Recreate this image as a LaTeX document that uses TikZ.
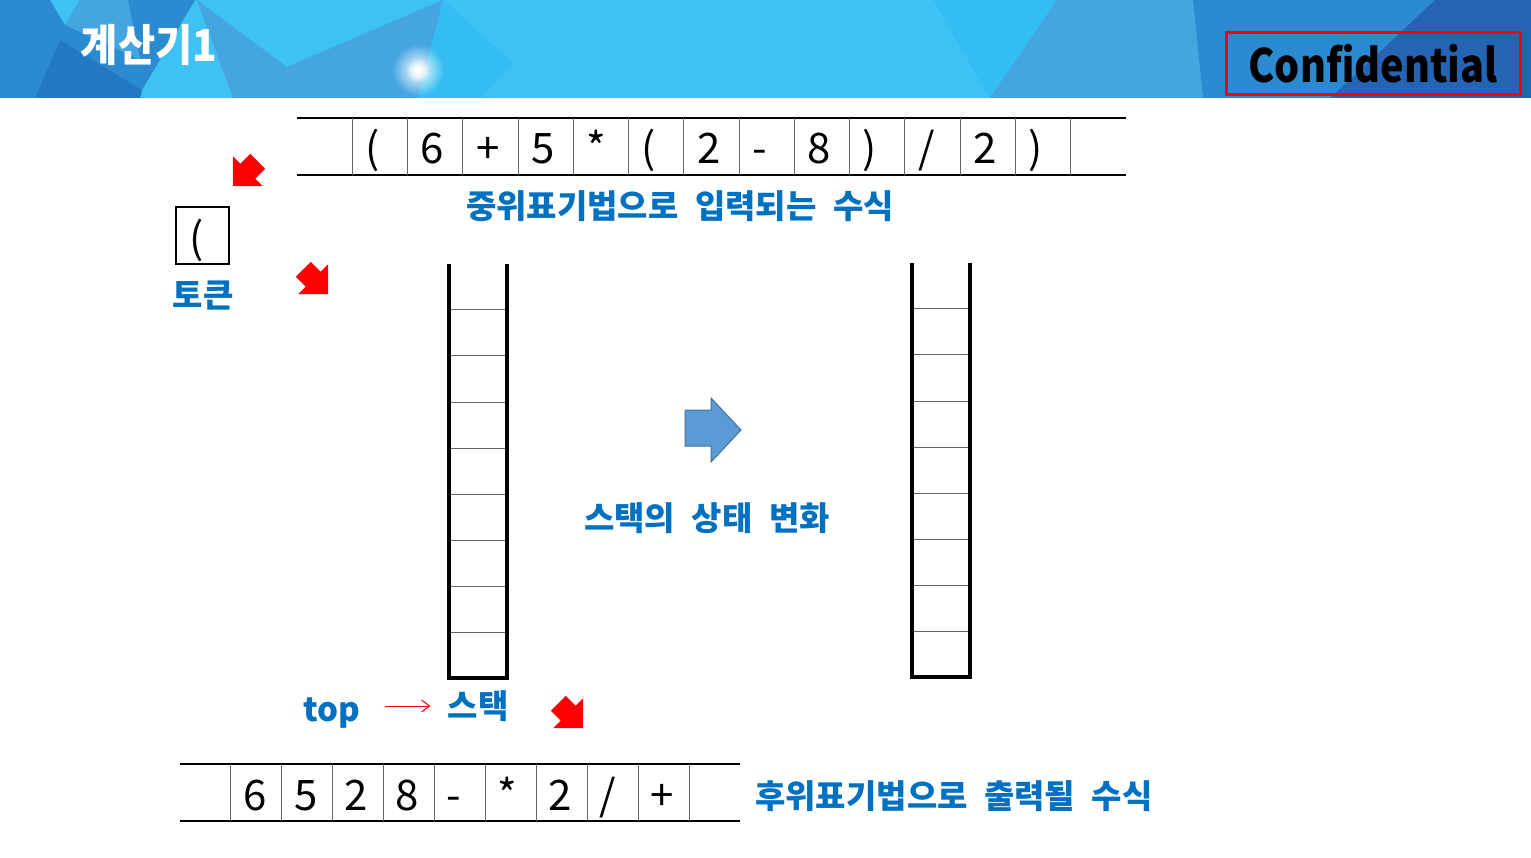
\documentclass[tikz,border=0pt]{standalone}
\usepackage{xcolor}
\usepackage{graphicx}
\usepackage{fontspec}
\setmainfont{Noto Sans CJK KR}
\usetikzlibrary{arrows.meta, fadings}

\definecolor{lblue}{HTML}{0070C0}
\definecolor{hcyan}{HTML}{3EC1F3}
\definecolor{hcyanb}{HTML}{33BDF2}
\definecolor{hmid}{HTML}{45A5E1}
\definecolor{hdark}{HTML}{2B8AD0}
\definecolor{hdeep}{HTML}{2378C4}
\definecolor{hnavy}{HTML}{2564B2}
\definecolor{barrow}{HTML}{5B9BD5}
\definecolor{barrowline}{HTML}{41719C}

\tikzfading[name=glowfade, inner color=transparent!0, outer color=transparent!100]

\newcommand{\widesp}{\spaceskip=0.5em plus 0.1em\relax}

\tikzset{
  cellchar/.style={anchor=base west, font=\fontsize{42}{46}\selectfont},
  bluelabel/.style={text=lblue, font=\bfseries\fontsize{33}{38}\selectfont,
    execute at begin node=\widesp},
  barline/.style={line width=1.5pt},
  cellline/.style={gray!80!black, line width=1pt},
  stackwall/.style={line width=3.5pt},
  redarrow/.pic={
    \fill[red] (-18,-10.5) -- (-4,-10.5) -- (-4,-21) -- (17,0) -- (-4,21) -- (-4,10.5) -- (-18,10.5) -- cycle;
  }
}

\begin{document}
\begin{tikzpicture}[x=1pt, y=-1pt, every node/.style={inner sep=0pt}]
  \useasboundingbox (0,0) rectangle (1531,858);

  % header band
  \fill[hcyan] (0,0) rectangle (1531,98);
  \fill[hdark] (0,0) -- (195,0) -- (142,90) -- (130,98) -- (0,98) -- cycle;
  \fill[hcyan] (50,0) -- (80,0) -- (65,25) -- cycle;
  \fill[hmid] (80,0) -- (128,0) -- (140,60) -- (65,25) -- cycle;
  \fill[hdeep] (35,98) -- (60,40) -- (142,90) -- (140,98) -- cycle;
  \fill[hmid] (197,0) -- (287,67) -- (282,98) -- (233,98) -- cycle;
  \fill[hmid] (287,67) -- (443,0) -- (418,98) -- (282,98) -- cycle;
  \fill[hcyanb] (443,0) -- (513,63) -- (480,98) -- (418,98) -- cycle;
  \fill[hcyanb] (933,0) -- (1057,0) -- (990,98) -- cycle;
  \fill[hmid] (1057,0) -- (1193,0) -- (1203,98) -- (990,98) -- cycle;
  \fill[hdark] (1193,0) -- (1240,0) -- (1217,98) -- (1203,98) -- cycle;
  \fill[hnavy] (1240,0) -- (1531,0) -- (1531,98) -- (1217,98) -- cycle;
  \fill[hdark] (1240,0) -- (1435,0) -- (1330,98) -- (1217,98) -- cycle;
  \fill[white, path fading=glowfade] (418,70) circle (26);
  \fill[white, path fading=glowfade] (418,70) circle (12);

  \node[text=white, font=\bfseries\fontsize{44}{48}\selectfont] (title) at (149,45)
    {\scalebox{0.92}[1]{계산기1}};
  \draw[red, line width=3pt] (1226,33) rectangle (1520,95);
  \node[font=\bfseries\fontsize{46}{50}\selectfont] (conf) at (1373,64)
    {\scalebox{0.86}[1]{Confidential}};

  % infix input
  \draw[barline] (297,118) -- (1126,118);
  \draw[barline] (297,175) -- (1126,175);
  \foreach \i in {1,...,14}
    \draw[cellline] ({297+\i*55.27},118) -- ++(0,57);
  \foreach \c [count=\i] in {{(},6,+,5,*,{(},2,-,8,{)},/,2,{)}}
    \node[cellchar] (in\i) at ({297+\i*55.27+13},164) {\c};
  \node[bluelabel] (inlabel) at (680,206) {중위표기법으로 입력되는 수식};

  % token
  \draw[line width=1.3pt] (176,207) rectangle (229,264);
  \node[cellchar] (tok) at (189,254) {(};
  \node[bluelabel] (toklabel) at (203,296) {토큰};

  % red arrows
  \pic[rotate=225] at (245,174) {redarrow};
  \pic[rotate=-45] at (316,282) {redarrow};
  \pic[rotate=-45] at (571,716) {redarrow};

  % stacks
  \foreach \sx/\sy in {449/264, 912/263} {
    \foreach \k in {0,...,7}
      \draw[cellline] (\sx,{\sy+46+46*\k}) -- ++(57,0);
    \draw[stackwall] (\sx,\sy) -- (\sx,{\sy+414}) -- ({\sx+58},{\sy+414}) -- ({\sx+58},\sy);
  }

  % change of state
  \fill[barrow, draw=barrowline, line width=1pt]
    (685,410) -- (711,410) -- (711,398) -- (741,430) -- (711,462) -- (711,446) -- (685,446) -- cycle;
  \node[bluelabel] (statelabel) at (707,518) {스택의 상태 변화};

  \node[bluelabel] (top) at (332,713) {top};
  \node[bluelabel] (stk) at (478,706) {스택};
  \draw[red, line width=1pt, -{Straight Barb[length=8pt, width=12pt]}, shorten <=24pt, shorten >=17pt]
    (top.east |- stk.west) -- (stk.west);

  % postfix output
  \draw[barline] (180,764) -- (740,764);
  \draw[barline] (180,821) -- (740,821);
  \foreach \i in {1,...,10}
    \draw[cellline] ({180+\i*50.9},764) -- ++(0,57);
  \foreach \c [count=\i] in {6,5,2,8,-,*,2,/,+}
    \node[cellchar] (out\i) at ({180+\i*50.9+12},810) {\c};
  \node[bluelabel, anchor=west] (outlabel) at (755,796) {후위표기법으로 출력될 수식};
\end{tikzpicture}
\end{document}
